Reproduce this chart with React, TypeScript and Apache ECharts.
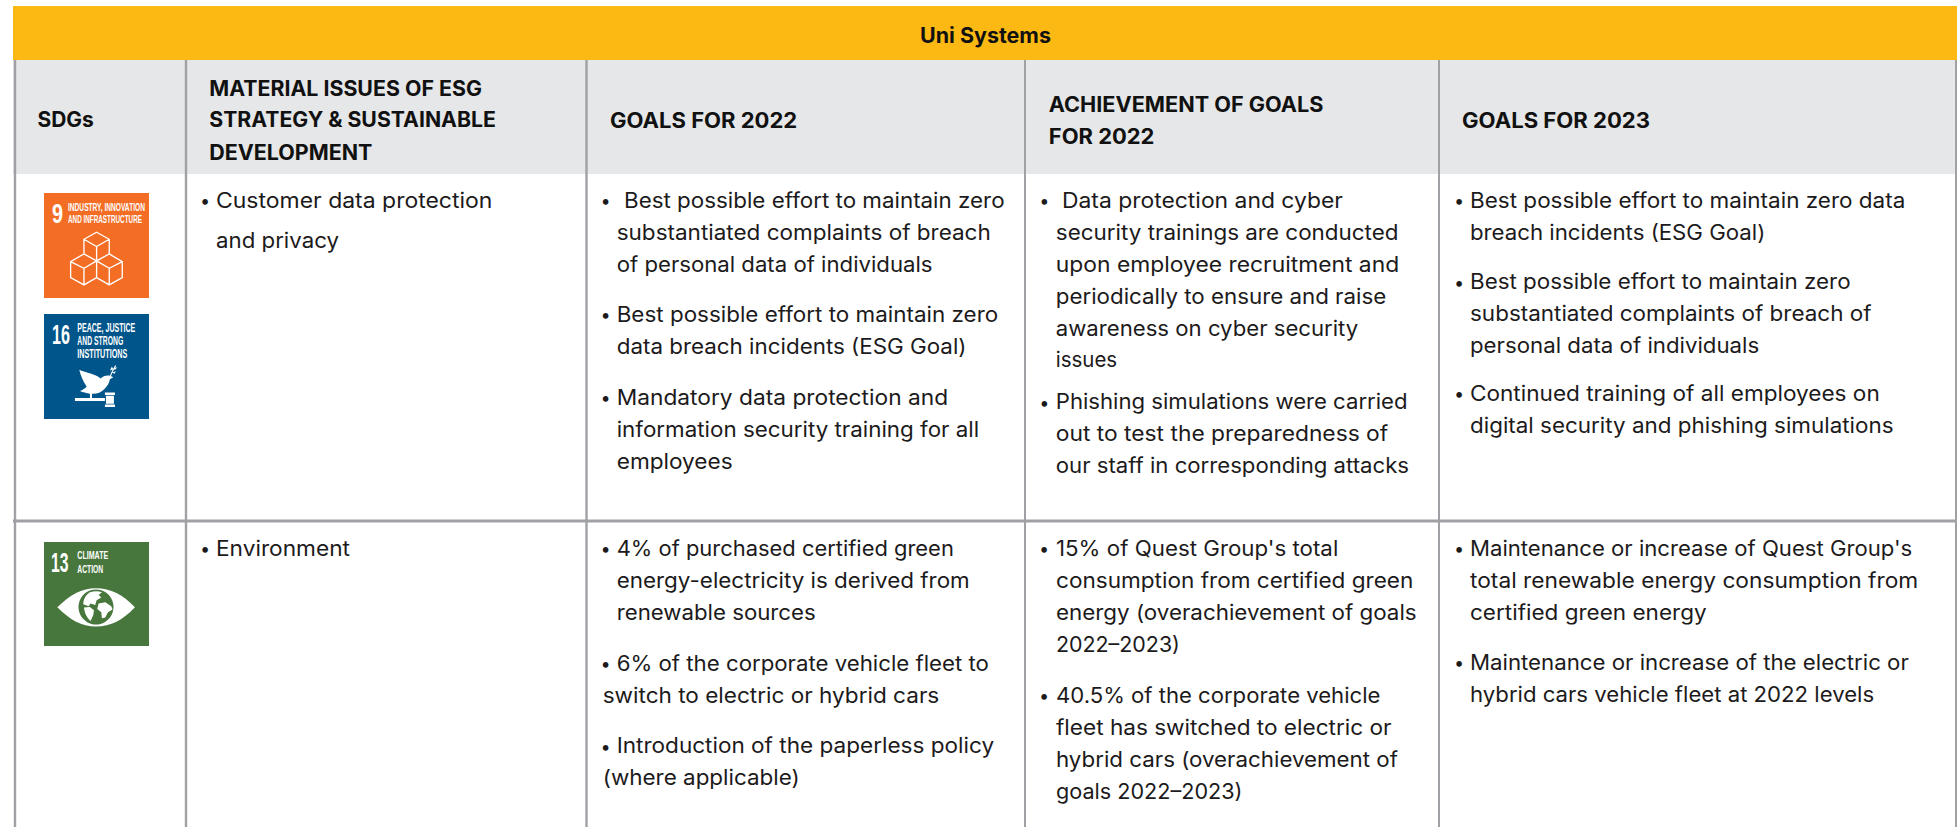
import React, { useEffect, useRef } from "react";
import * as echarts from "echarts";

const W = 1957, H = 827;
const FONT = "Inter";
const INK = "#1c1a1b";
const BODY_SIZE = 21;
const HEAD_SIZE = 21;
const CENTRAL = 0.325;

const titleText = "Uni Systems";
const headerSdg = ["SDGs"];
const headerIssues = ["MATERIAL ISSUES OF ESG", "STRATEGY & SUSTAINABLE", "DEVELOPMENT"];
const headerGoals22 = ["GOALS FOR 2022"];
const headerAchieved = ["ACHIEVEMENT OF GOALS", "FOR 2022"];
const headerGoals23 = ["GOALS FOR 2023"];

const issuesRow1 = [["Customer data protection", "and privacy"]];
const goals22Row1 = [
  ["Best possible effort to maintain zero", "substantiated complaints of breach", "of personal data of individuals"],
  ["Best possible effort to maintain zero", "data breach incidents (ESG Goal)"],
  ["Mandatory data protection and", "information security training for all", "employees"],
];
const achievedRow1 = [
  ["Data protection and cyber", "security trainings are conducted", "upon employee recruitment and", "periodically to ensure and raise", "awareness on cyber security", "issues"],
  ["Phishing simulations were carried", "out to test the preparedness of", "our staff in corresponding attacks"],
];
const goals23Row1 = [
  ["Best possible effort to maintain zero data", "breach incidents (ESG Goal)"],
  ["Best possible effort to maintain zero", "substantiated complaints of breach of", "personal data of individuals"],
  ["Continued training of all employees on", "digital security and phishing simulations"],
];
const issuesRow2 = [["Environment"]];
const goals22Row2 = [
  ["4% of purchased certified green", "energy-electricity is derived from", "renewable sources"],
  ["6% of the corporate vehicle fleet to", "switch to electric or hybrid cars"],
  ["Introduction of the paperless policy", "(where applicable)"],
];
const achievedRow2 = [
  ["15% of Quest Group's total", "consumption from certified green", "energy (overachievement of goals", "2022–2023)"],
  ["40.5% of the corporate vehicle", "fleet has switched to electric or", "hybrid cars (overachievement of", "goals 2022–2023)"],
];
const goals23Row2 = [
  ["Maintenance or increase of Quest Group's", "total renewable energy consumption from", "certified green energy"],
  ["Maintenance or increase of the electric or", "hybrid cars vehicle fleet at 2022 levels"],
];

// Right-hand ends of each line (layout, not data).
const endsIssues1 = [[492.5, 339]];
const endsGoals22a = [[1005, 991, 932.7], [998.3, 966.7], [948.3, 979.3, 732.7]];
const endsAchieved1 = [[1343, 1398.7, 1399.3, 1386.4, 1358.4, 1117.2], [1407.8, 1388.3, 1409]];
const endsGoals23a = [[1905.4, 1765.6], [1851, 1871.8, 1759.5], [1879.7, 1893.8]];
const endsIssues2 = [[350]];
const endsGoals22b = [[954, 970, 816], [989.3, 939.3], [994.3, 800]];
const endsAchieved2 = [[1338.3, 1413.3, 1416.7, 1180], [1380.7, 1391.7, 1398.3, 1242.7]];
const endsGoals23b = [[1912.7, 1918.3, 1706.7], [1909.3, 1874.3]];

const ctx = document.createElement("canvas").getContext("2d") as CanvasRenderingContext2D;
function widthOf(str: string, size: number, weight: any, family: string) {
  ctx.font = `${weight} ${size}px "${family}"`;
  return ctx.measureText(str).width;
}
function fitText(str: string, x: number, cy: number, size: number, target: number, fill = "#fff", family = "Liberation Sans") {
  return {
    type: "text", x, y: cy + 0.8, scaleX: target / widthOf(str, size, "bold", family), silent: true,
    style: { text: str, fontFamily: family, fontWeight: "bold", fontSize: size, fill, align: "left", verticalAlign: "middle" },
  };
}
function label(str: string, x: number, end: number, base: number, size: number, weight: any, fill = INK) {
  return {
    type: "text", x, y: base - CENTRAL * size, scaleX: (end - x) / widthOf(str, size, weight, FONT), silent: true,
    style: { text: str, fontFamily: FONT, fontWeight: weight, fontSize: size, fill, align: "left", verticalAlign: "middle" },
  };
}
function bullet(x: number, base: number) {
  return {
    type: "text", x, y: base - 5.7, silent: true,
    style: { text: "•", fontFamily: "Lato", fontSize: 15, fill: INK, align: "center", verticalAlign: "middle" },
  };
}

const cubesD = "M200 157L238 178V222L200 243L162 222V178ZM162 178L200 200L238 178M200 200V243M162 222L200 243V293L162 315L122 293V245ZM122 245L162 265L200 243M162 265V315M238 222L277 245V293L238 315L200 293M200 243L238 265L277 245M238 265V315";
const doveD = "M148 570C170 580 195 582 212 596C222 586 238 584 250 592L240 598C236 620 215 642 190 642L186 642V656H180V642C170 640 158 638 150 634C158 630 166 626 170 620C160 606 152 588 148 570Z" +
  "M135 655H225V664H135ZM225 638H255V646H225ZM228 648H252V672H228ZM225 674H255V682H225Z" +
  "M238 596C240 584 246 572 256 556L259 558C250 572 244 584 241 597Z M248 566L262 562L256 570Z M240 572L246 560L250 568Z M246 578L258 574L254 582Z";
const eyeD = "M52 217C90 180 125 160 168 160C212 160 250 180 285 217C250 255 212 275 168 275C125 275 90 255 52 217Z";
const landD = "M150 172C162 168 176 168 186 172L176 180L184 188L170 196L166 210L152 206L146 214L130 208C130 192 138 180 150 172Z" +
  "M132 218L150 216L162 226L160 240L152 258C142 250 134 236 132 218Z" +
  "M176 206L196 202L214 214L218 224L204 232L196 248L186 250L184 232L172 222Z";
echarts.graphic.registerShape("cubes", echarts.graphic.extendPath(cubesD, {}));
echarts.graphic.registerShape("dove", echarts.graphic.extendPath(doveD, {}));
echarts.graphic.registerShape("eye", echarts.graphic.extendPath(eyeD, {}));
echarts.graphic.registerShape("land", echarts.graphic.extendPath(landD, {}));

const columnLines = [15, 186, 586.5, 1025, 1439, 1956];
const LINE = "#a0a1a5";

function buildElements() {
  const els: any[] = [];
  els.push({ type: "rect", shape: { x: 13, y: 60, width: W - 13, height: 114 }, style: { fill: "#e6e7e8" }, silent: true });
  els.push({ type: "rect", shape: { x: 13, y: 6, width: W - 13, height: 54 }, style: { fill: "#fdb913" }, silent: true });
  columnLines.forEach((x, i) => {
    const w = i < 3 ? 2.4 : 2;
    els.push({ type: "rect", shape: { x: x - w / 2, y: 60, width: w, height: H - 60 }, style: { fill: LINE }, silent: true });
  });
  els.push({ type: "rect", shape: { x: 13, y: 519.5, width: W - 13, height: 3 }, style: { fill: LINE }, silent: true });

  // title + headers
  els.push(label(titleText, 920, 1051, 42, HEAD_SIZE, 700, "#111"));
  const head = (lines: string[], x: number, ends: number[], bases: number[]) =>
    lines.forEach((s, i) => els.push(label(s, x, ends[i], bases[i], HEAD_SIZE, 700, "#111")));
  head(headerSdg, 37.5, [93.8], [126.7]);
  head(headerIssues, 209.3, [482.2, 496, 372.4], [95, 126.7, 159]);
  head(headerGoals22, 610, [797.3], [126.7]);
  head(headerAchieved, 1048.8, [1323.6, 1154.5], [110.7, 143.3]);
  head(headerGoals23, 1462, [1650], [126.7]);

  // body cells
  const cell = (paras: string[][], ends: number[][], bx: number, text: number, tops: number[], step = 32, xs: Record<string, number> = {}) => {
    paras.forEach((lines, p) => {
      els.push(bullet(bx, tops[p]));
      lines.forEach((s, l) => {
        const x = xs[`${p}:${l}`] ?? text;
        els.push(label(s, x, ends[p][l], tops[p] + l * step, BODY_SIZE, 400));
      });
    });
  };
  cell(issuesRow1, endsIssues1, 205, 216, [206.7], 40);
  cell(goals22Row1, endsGoals22a, 605.7, 616.7, [206.7, 321, 404], 32, { "0:0": 624 });
  cell(achievedRow1, endsAchieved1, 1044.4, 1055.8, [206.7, 408.3], 32, { "0:0": 1062 });
  cell(goals23Row1, endsGoals23a, 1459, 1470, [206.7, 288.3, 400], 32);
  cell(issuesRow2, endsIssues2, 205, 216, [555], 32);
  cell(goals22Row2, endsGoals22b, 605.7, 616.7, [555, 670, 752.3], 32, { "1:1": 602.7, "2:1": 602.7 });
  cell(achievedRow2, endsAchieved2, 1044, 1056, [555, 701.7], 32);
  cell(goals23Row2, endsGoals23b, 1459, 1470, [555, 669], 32);

  // SDG tiles
  els.push({ type: "rect", shape: { x: 44, y: 193, width: 105, height: 105 }, style: { fill: "#f36d25" }, silent: true });
  els.push(fitText("9", 52, 213.5, 27, 11));
  els.push(fitText("INDUSTRY, INNOVATION", 68, 206.7, 11, 77));
  els.push(fitText("AND INFRASTRUCTURE", 68, 219, 11, 74));
  els.push({ type: "cubes", x: 30, y: 180, scaleX: 1 / 3, scaleY: 1 / 3, silent: true, style: { fill: "none", stroke: "#fff", lineWidth: 4 } });

  els.push({ type: "rect", shape: { x: 44, y: 314, width: 105, height: 105 }, style: { fill: "#00558a" }, silent: true });
  els.push(fitText("16", 52, 334, 27, 18));
  els.push(fitText("PEACE, JUSTICE", 77.3, 327, 12, 58));
  els.push(fitText("AND STRONG", 77.3, 340, 12, 46));
  els.push(fitText("INSTITUTIONS", 77.3, 352.7, 12, 50));
  els.push({ type: "dove", x: 30, y: 180, scaleX: 1 / 3, scaleY: 1 / 3, silent: true, style: { fill: "#fff" } });

  els.push({ type: "rect", shape: { x: 44, y: 542, width: 105, height: 104 }, style: { fill: "#48773e" }, silent: true });
  els.push(fitText("13", 51, 562, 27, 17.5));
  els.push(fitText("CLIMATE", 77.3, 555, 10, 31));
  els.push(fitText("ACTION", 77.3, 569, 10, 26));
  els.push({ type: "eye", x: 40, y: 535, scaleX: 1 / 3, scaleY: 1 / 3, silent: true, style: { fill: "#fff" } });
  els.push({ type: "circle", shape: { cx: 40 + 168 / 3, cy: 535 + 216 / 3, r: 17.5 }, silent: true, style: { fill: "#48773e" } });
  els.push({ type: "land", x: 40, y: 535, scaleX: 1 / 3, scaleY: 1 / 3, silent: true, style: { fill: "#fff" } });
  return els;
}

export default function App() {
  const ref = useRef<HTMLDivElement>(null);
  useEffect(() => {
    document.body.style.margin = "0";
    const chart = echarts.init(ref.current as HTMLDivElement, undefined, { renderer: "svg" });
    chart.setOption({ animation: false, backgroundColor: "#fff", graphic: { elements: buildElements() } });
    return () => chart.dispose();
  }, []);
  return <div ref={ref} style={{ width: W, height: H }} />;
}
